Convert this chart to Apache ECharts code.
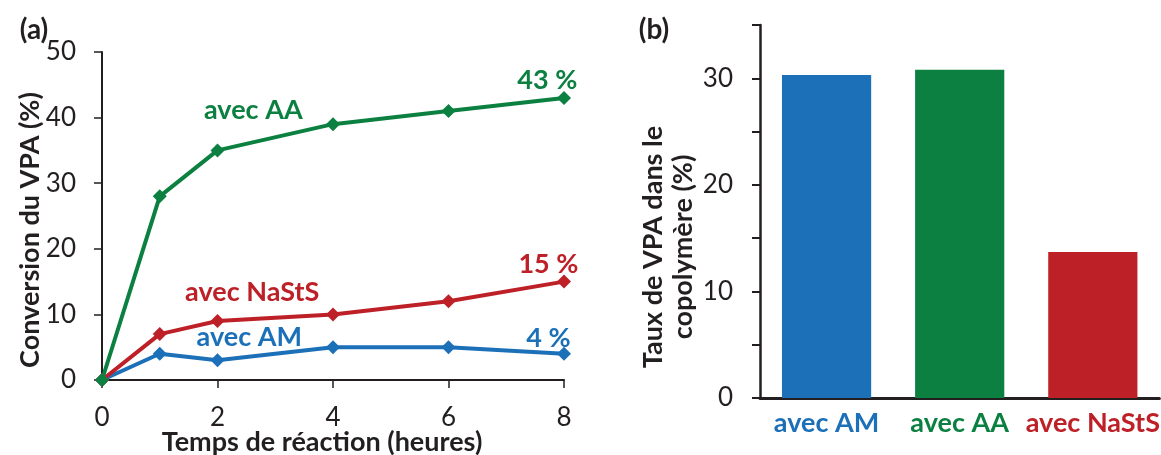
<!DOCTYPE html>
<html>
<head>
<meta charset="utf-8">
<script src="https://cdn.jsdelivr.net/npm/echarts@6/dist/echarts.min.js"></script>
<style>
html,body{margin:0;padding:0;background:#fff;}
#chart{width:1161px;height:455px;}
</style>
</head>
<body>
<div id="chart"></div>
<script>
// ---- data ----
const hours = [0, 1, 2, 4, 6, 8];
const convAM = [0, 4, 3, 5, 5, 4];
const convNaStS = [0, 7, 9, 10, 12, 15];
const convAA = [0, 28, 35, 39, 41, 43];
const barCategories = ['avec AM', 'avec AA', 'avec NaStS'];
const barValues = [30.3, 30.8, 13.7];
const seriesNames = ['avec AM', 'avec NaStS', 'avec AA'];
const endLabels = ['4 %', '15 %', '43 %'];

const C_BLUE = '#1c70b8', C_GREEN = '#0b8040', C_RED = '#be2027';
const INK = '#231f20';
const FONT = 'Lato, "Open Sans", sans-serif';
const TICK_FS = 26, ANN_FS = 27, TITLE_FS = 27;

function pairs(vals){ return hours.map((h,i)=>[h, vals[i]]); }

function lineSeries(name, vals, color, annots){
  return {
    type:'line', name, data: pairs(vals), xAxisIndex:0, yAxisIndex:0,
    symbol:'diamond', symbolSize:14, showAllSymbol:true,
    lineStyle:{color, width:4}, itemStyle:{color},
    markPoint:{
      symbol:'circle', symbolSize:1, itemStyle:{color:'transparent'},
      silent:true,
      label:{show:true, position:'inside', color, fontFamily:FONT, fontWeight:'bold', fontSize:ANN_FS},
      data: annots.map(a=>({coord:a.coord, value:a.text, label:{formatter:a.text}}))
    },
    animation:false
  };
}

const option = {
  animation:false,
  textStyle:{fontFamily:FONT},
  grid:[
    {left:102, top:52, width:462, height:328},
    {left:760, top:25, width:411, height:373}
  ],
  xAxis:[
    {type:'value', gridIndex:0, min:0, max:8, interval:2,
     axisLine:{show:true, onZero:false, lineStyle:{color:INK, width:2}},
     axisTick:{show:true, inside:false, length:8, lineStyle:{color:INK, width:1.5}},
     axisLabel:{color:INK, fontSize:TICK_FS, margin:25, fontFamily:FONT},
     splitLine:{show:false}},
    {type:'category', gridIndex:1, data: barCategories.map((c,i)=>({value:c, textStyle:{color:[C_BLUE,C_GREEN,C_RED][i]}})),
     axisLine:{show:true, lineStyle:{color:INK, width:3}},
     axisTick:{show:false},
     axisLabel:{fontSize:ANN_FS, fontWeight:'bold', margin:12, fontFamily:FONT, interval:0}}
  ],
  yAxis:[
    {type:'value', gridIndex:0, min:0, max:50, interval:10,
     axisLine:{show:true, lineStyle:{color:INK, width:2}},
     axisTick:{show:true, length:8, lineStyle:{color:INK, width:1.5}},
     axisLabel:{color:INK, fontSize:TICK_FS, margin:26, fontFamily:FONT},
     splitLine:{show:false}},
    {type:'value', gridIndex:1, min:0, max:35, interval:5,
     axisLine:{show:true, lineStyle:{color:INK, width:2.5}},
     axisTick:{show:true, length:8, lineStyle:{color:INK, width:2}},
     axisLabel:{color:INK, fontSize:TICK_FS, margin:27, fontFamily:FONT,
       formatter:v=> (v%10===0 ? String(v) : '')},
     splitLine:{show:false}}
  ],
  series:[
    lineSeries(seriesNames[0], convAM, C_BLUE, [
      {coord:[2.55, 6.55], text:'avec AM'},
      {coord:[7.73, 6.4], text:endLabels[0]}
    ]),
    lineSeries(seriesNames[1], convNaStS, C_RED, [
      {coord:[2.60, 13.4], text:'avec NaStS'},
      {coord:[7.73, 17.7], text:endLabels[1]}
    ]),
    lineSeries(seriesNames[2], convAA, C_GREEN, [
      {coord:[2.62, 41.1], text:'avec AA'},
      {coord:[7.71, 45.7], text:endLabels[2]}
    ]),
    {type:'bar', xAxisIndex:1, yAxisIndex:1, barWidth:'67%',
     data: barValues.map((v,i)=>({value:v, itemStyle:{color:[C_BLUE,C_GREEN,C_RED][i]}})),
     animation:false}
  ],
  graphic:[
    {type:'text', x:34, y:30, style:{text:'(a)', font:'bold 28px '+FONT, fill:INK, textAlign:'center', textVerticalAlign:'middle'}},
    {type:'text', x:654, y:30, style:{text:'(b)', font:'bold 28px '+FONT, fill:INK, textAlign:'center', textVerticalAlign:'middle'}},
    {type:'text', x:30, y:230, rotation:Math.PI/2,
     style:{text:'Conversion du VPA (%)', font:'bold '+TITLE_FS+'px '+FONT, fill:INK, textAlign:'center', textVerticalAlign:'middle'}},
    {type:'text', x:322, y:442,
     style:{text:'Temps de réaction (heures)', font:'bold '+TITLE_FS+'px '+FONT, fill:INK, textAlign:'center', textVerticalAlign:'middle'}},
    {type:'text', x:668, y:247, rotation:Math.PI/2,
     style:{text:'Taux de VPA dans le\ncopolymère (%)', font:'bold '+TITLE_FS+'px '+FONT, fill:INK, textAlign:'center', textVerticalAlign:'middle', lineHeight:30}}
  ]
};

const chart = echarts.init(document.getElementById('chart'), null, {renderer:'canvas'});
chart.setOption(option);
</script>
</body>
</html>
